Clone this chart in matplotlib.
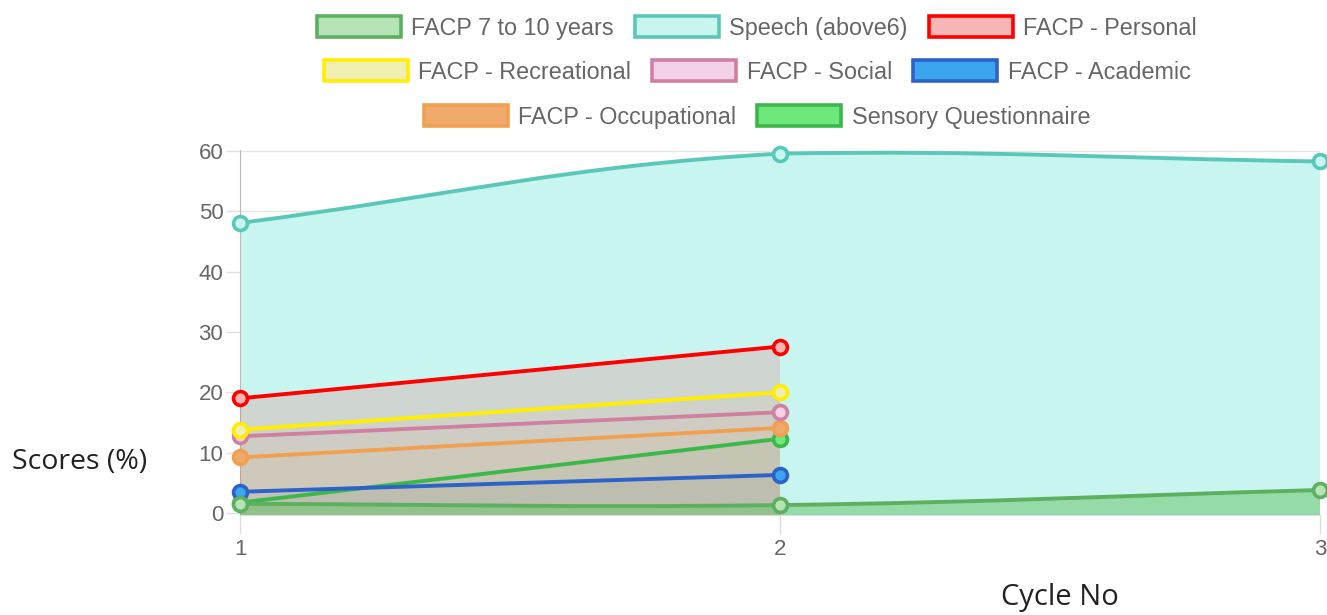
import numpy as np
import matplotlib as mpl
mpl.use('Agg')
import matplotlib.pyplot as plt
from matplotlib.path import Path
from matplotlib.patches import PathPatch, Patch

plt.rcParams['font.family'] = ['Liberation Sans', 'DejaVu Sans']

cycles = [1, 2, 3]
facp_7_10 = [1.5, 1.3, 3.8]
speech = [48.1, 59.6, 58.3]
personal = [19.0, 27.6]
recreational = [13.8, 20.0]
social = [12.7, 16.7]
academic = [3.5, 6.3]
occupational = [9.2, 14.1]
sensory = [1.7, 12.3]

# name, values, line colour, legend fill, area fill (rgba)
series = [
    ("FACP 7 to 10 years", facp_7_10, "#5cb060", "#b7e4b7", (0.42, 0.78, 0.42, 0.55)),
    ("Speech (above6)", speech, "#5ac8b9", "#c9f5ef", (0.79, 0.96, 0.94, 1.0)),
    ("FACP - Personal", personal, "#ff0000", "#f6b6b6", (1.0, 0.0, 0.0, 0.13)),
    ("FACP - Recreational", recreational, "#ffee00", "#f0eeb0", (0.8, 0.8, 0.3, 0.06)),
    ("FACP - Social", social, "#d080a0", "#f3d2e8", (0.75, 0.55, 0.63, 0.06)),
    ("FACP - Academic", academic, "#2d62c8", "#3aa6f0", (0.16, 0.39, 0.78, 0.07)),
    ("FACP - Occupational", occupational, "#f0a050", "#efaa6c", (0.8, 0.63, 0.4, 0.07)),
    ("Sensory Questionnaire", sensory, "#3cb84a", "#6ee87a", (0.24, 0.72, 0.29, 0.08)),
]

YMIN, YMAX = -0.35, 60.2
SX, SY = 540.0, 6.05  # px per unit, for spline distances


def spline_path(xs, ys, tension=0.4, close=False):
    xs = np.asarray(xs, float)
    ys = np.asarray(ys, float)
    n = len(xs)
    cps = []
    for i in range(n):
        p = (xs[max(i - 1, 0)], ys[max(i - 1, 0)])
        c = (xs[i], ys[i])
        nx = (xs[min(i + 1, n - 1)], ys[min(i + 1, n - 1)])
        d01 = np.hypot((c[0] - p[0]) * SX, (c[1] - p[1]) * SY)
        d12 = np.hypot((nx[0] - c[0]) * SX, (nx[1] - c[1]) * SY)
        tot = d01 + d12
        s01 = d01 / tot if tot else 0
        s12 = d12 / tot if tot else 0
        fa, fb = tension * s01, tension * s12
        prev_cp = (c[0] - fa * (nx[0] - p[0]), c[1] - fa * (nx[1] - p[1]))
        next_cp = (c[0] + fb * (nx[0] - p[0]), c[1] + fb * (nx[1] - p[1]))
        prev_cp = (prev_cp[0], min(max(prev_cp[1], YMIN), YMAX))
        next_cp = (next_cp[0], min(max(next_cp[1], YMIN), YMAX))
        cps.append((prev_cp, next_cp))
    verts = [(xs[0], ys[0])]
    codes = [Path.MOVETO]
    for i in range(1, n):
        verts += [cps[i - 1][1], cps[i][0], (xs[i], ys[i])]
        codes += [Path.CURVE4] * 3
    if close:
        verts += [(xs[-1], YMIN), (xs[0], YMIN), (xs[0], ys[0])]
        codes += [Path.LINETO, Path.LINETO, Path.CLOSEPOLY]
    return Path(verts, codes)


fig = plt.figure(figsize=(13.27, 6.15), dpi=100)
ax = fig.add_axes([240 / 1327, 1 - 515 / 615, 1080 / 1327, 365 / 615])
ax.set_xlim(1, 3)
ax.set_ylim(YMIN, YMAX)

draw_order = [1, 7, 6, 5, 4, 3, 2, 0]
for z, idx in enumerate(draw_order):
    name, vals, lc, lf, af = series[idx]
    xs = cycles[:len(vals)]
    ax.add_patch(PathPatch(spline_path(xs, vals, close=True), facecolor=af,
                           edgecolor='none', zorder=2 + z * 0.1))
for z, idx in enumerate(draw_order):
    name, vals, lc, lf, af = series[idx]
    xs = cycles[:len(vals)]
    ax.add_patch(PathPatch(spline_path(xs, vals), facecolor='none', edgecolor=lc,
                           lw=2.8, zorder=4 + z * 0.1, capstyle='round'))
    ax.plot(xs, vals, 'o', ms=10, mfc=lf, mec=lc, mew=2.6, zorder=5 + z * 0.1,
            clip_on=False)

ax.set_yticks(range(0, 61, 10))
ax.set_xticks(cycles)
ax.grid(True, color='#e6e6e6', lw=1)
ax.set_axisbelow(True)
for s in ['top', 'right']:
    ax.spines[s].set_visible(False)
ax.spines['left'].set_color('#bbbbbb')
ax.spines['bottom'].set_color('#dddddd')
ax.tick_params(axis='y', colors='#e0e0e0', labelcolor='#666666', labelsize=16,
               length=10, width=1, pad=2)
ax.tick_params(axis='x', colors='#dddddd', labelcolor='#666666', labelsize=16,
               length=14, width=1, pad=3)

fig.text(12 / 1327, 1 - 462 / 615, "Scores (%)", fontsize=20.5, family='Open Sans',
         color='#222222', ha='left', va='center')
fig.text(1060 / 1327, 1 - 597 / 615, "Cycle No", fontsize=21, family='Open Sans',
         color='#222222', ha='center', va='center')

rows = [[0, 1, 2], [3, 4, 5], [6, 7]]
row_y = [28, 72, 117]
for r, yy in zip(rows, row_y):
    handles = [Patch(facecolor=series[i][3], edgecolor=series[i][2], lw=2.6) for i in r]
    labels = [series[i][0] for i in r]
    leg = fig.legend(handles, labels, loc='center', bbox_to_anchor=(757 / 1327, 1 - yy / 615),
                     ncol=len(r), frameon=False, fontsize=16.8, handlelength=3.6,
                     handleheight=0.95, handletextpad=0.45, columnspacing=0.9,
                     borderpad=0, borderaxespad=0)
    for t in leg.get_texts():
        t.set_color('#666666')

fig.savefig("out.png", dpi=100)
